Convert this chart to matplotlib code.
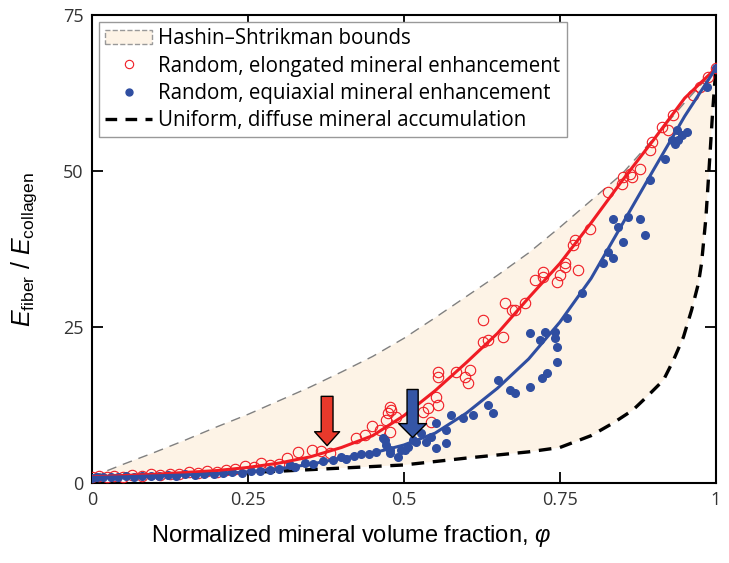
import numpy as np
import matplotlib
matplotlib.use('Agg')
import matplotlib.pyplot as plt
from matplotlib.patches import Patch
from matplotlib.lines import Line2D

plt.rcParams['mathtext.fontset'] = 'custom'
plt.rcParams['mathtext.rm'] = 'Liberation Sans'
plt.rcParams['mathtext.it'] = 'Liberation Sans:italic'

# fitted curves
fit_phi = [0, 0.05, 0.1, 0.15, 0.2, 0.25, 0.3, 0.35, 0.4, 0.45, 0.5,
           0.55, 0.6, 0.65, 0.7, 0.75, 0.8, 0.85, 0.9, 0.95, 1.0]
red_fit = [1.0, 1.2, 1.4, 1.7, 2.0, 2.5, 3.2, 4.2, 5.7, 7.6, 10.8,
           14.8, 19.3, 24.0, 29.7, 35.2, 41.7, 48.5, 55.0, 61.7, 66.5]
blue_fit = [0.9, 1.0, 1.15, 1.3, 1.5, 1.8, 2.3, 3.0, 4.0, 4.8, 6.1,
            8.0, 11.2, 15.2, 19.9, 25.8, 32.8, 41.5, 50.2, 58.8, 66.5]

# Hashin-Shtrikman bounds
upper_phi = [0, 0.05, 0.1, 0.15, 0.2, 0.25, 0.3, 0.35, 0.4, 0.45, 0.5,
             0.55, 0.6, 0.65, 0.7, 0.75, 0.8, 0.85, 0.9, 0.95, 1.0]
upper_E = [1.0, 3.0, 4.9, 6.9, 9.0, 11.0, 13.2, 15.4, 17.8, 20.3, 23.2,
           26.5, 29.9, 33.3, 36.9, 41.0, 45.3, 49.6, 55.2, 61.0, 66.5]
lower_phi = [0, 0.1, 0.2, 0.3, 0.4, 0.5, 0.6, 0.7, 0.75, 0.8, 0.835, 0.867,
             0.889, 0.916, 0.932, 0.948, 0.961, 0.972, 0.977, 0.984, 0.99, 0.995, 1.0]
lower_E = [1.0, 1.2, 1.5, 1.9, 2.4, 2.9, 4.0, 5.0, 5.7, 7.6, 9.6, 11.7,
           13.8, 16.5, 19.7, 23.4, 27.7, 32.0, 35.2, 42.5, 51.8, 59.8, 66.5]

# elongated (red open circles)
red_phi = [0.0, 0.012, 0.025, 0.035, 0.05, 0.065, 0.08, 0.095, 0.11, 0.125,
           0.14, 0.155, 0.17, 0.185, 0.2, 0.215, 0.23, 0.245, 0.26, 0.271,
           0.285, 0.3, 0.312, 0.331, 0.352, 0.367, 0.381, 0.424, 0.437, 0.449,
           0.461, 0.472, 0.475, 0.477, 0.48, 0.478, 0.488, 0.531, 0.539, 0.544,
           0.552, 0.555, 0.555, 0.555, 0.584, 0.598, 0.603, 0.606, 0.627, 0.627,
           0.635, 0.659, 0.662, 0.673, 0.678, 0.694, 0.71, 0.723, 0.723, 0.745,
           0.75, 0.758, 0.758, 0.771, 0.774, 0.779, 0.798, 0.827, 0.849, 0.851,
           0.862, 0.865, 0.878, 0.894, 0.897, 0.913, 0.924, 0.932, 0.964, 0.974,
           0.988, 1.0]
red_E = [1.0, 1.1, 0.9, 1.2, 1.0, 1.3, 1.1, 1.4, 1.3, 1.5,
         1.4, 1.7, 1.6, 1.9, 1.8, 2.1, 2.2, 2.7, 2.5, 3.2,
         2.9, 3.1, 4.0, 5.0, 5.3, 5.1, 4.8, 7.2, 7.7, 9.2,
         8.5, 10.1, 11.2, 12.2, 11.7, 8.2, 10.6, 11.4, 12.0, 9.8,
         13.8, 12.5, 17.0, 17.8, 17.8, 17.0, 16.0, 18.1, 26.1, 22.6,
         22.9, 23.4, 28.8, 27.7, 27.7, 28.8, 32.5, 33.9, 33.1, 32.3,
         33.3, 35.2, 34.7, 38.1, 38.9, 34.1, 40.8, 46.7, 48.0, 49.1,
         49.6, 49.1, 50.4, 53.4, 54.7, 57.1, 56.6, 59.0, 62.2, 63.5,
         65.1, 66.5]

# equiaxial (blue filled circles)
blue_phi = [0.0, 0.008, 0.018, 0.03, 0.042, 0.055, 0.068, 0.08, 0.095, 0.108,
            0.122, 0.135, 0.15, 0.165, 0.18, 0.195, 0.21, 0.225, 0.24, 0.255,
            0.27, 0.285, 0.3, 0.317, 0.325, 0.341, 0.355, 0.37, 0.387, 0.4,
            0.408, 0.42, 0.432, 0.444, 0.456, 0.466, 0.472, 0.47, 0.478, 0.478,
            0.491, 0.496, 0.502, 0.507, 0.515, 0.52, 0.528, 0.536, 0.544, 0.552,
            0.552, 0.568, 0.568, 0.576, 0.595, 0.611, 0.635, 0.643, 0.651, 0.67,
            0.678, 0.702, 0.702, 0.718, 0.721, 0.726, 0.729, 0.742, 0.742, 0.745,
            0.745, 0.761, 0.785, 0.819, 0.835, 0.827, 0.851, 0.843, 0.835, 0.859,
            0.878, 0.886, 0.894, 0.918, 0.929, 0.937, 0.94, 0.934, 0.945, 0.953,
            0.985, 1.0]
blue_E = [0.8, 1.0, 0.9, 1.0, 0.9, 1.1, 1.0, 1.2, 1.1, 1.2,
          1.3, 1.2, 1.4, 1.3, 1.5, 1.4, 1.6, 1.7, 1.6, 1.9,
          2.0, 2.1, 2.3, 2.9, 2.6, 3.2, 3.1, 3.5, 3.7, 4.2,
          3.9, 4.3, 4.7, 4.6, 5.0, 7.2, 6.1, 6.9, 5.3, 4.8,
          4.2, 5.3, 5.3, 5.8, 6.9, 6.6, 8.0, 6.6, 7.4, 9.6,
          5.6, 8.5, 6.4, 10.9, 10.4, 10.9, 12.5, 11.2, 16.5, 14.9,
          14.4, 24.0, 15.4, 22.9, 16.8, 24.2, 17.6, 24.2, 23.2, 21.8,
          19.4, 26.4, 30.4, 35.2, 36.0, 37.1, 38.7, 41.1, 42.3, 42.7,
          42.4, 39.7, 48.6, 52.0, 55.0, 56.6, 55.0, 54.4, 55.8, 56.3,
          63.5, 66.5]

RED = '#f01c24'
BLUE = '#2f4ea1'
FILL = '#fdf3e6'

fig = plt.figure(figsize=(7.29, 5.63), dpi=100)
ax = fig.add_axes([0.126, 0.142, 0.856, 0.831])

# bounds region
poly_x = np.concatenate([upper_phi, lower_phi[::-1]])
poly_y = np.concatenate([upper_E, lower_E[::-1]])
ax.fill(poly_x, poly_y, color=FILL, lw=0, zorder=1)
ax.plot(upper_phi, upper_E, color='#808080', lw=1.0, dashes=(7, 5), zorder=2)
ax.plot(lower_phi, lower_E, color='black', lw=2.4, dashes=(3.8, 2.6), zorder=2)

ax.plot(red_phi, red_E, 'o', mfc='none', mec=RED, mew=0.8, ms=7.5, zorder=3)
ax.plot(blue_phi, blue_E, 'o', color=BLUE, ms=5.5, zorder=3)
ax.plot(fit_phi, red_fit, color=RED, lw=2.2, zorder=4)
ax.plot(fit_phi, blue_fit, color=BLUE, lw=2.2, zorder=4)

# arrows
ax.annotate('', xy=(0.377, 6.0), xytext=(0.377, 13.9),
            arrowprops=dict(arrowstyle='simple,head_width=1.8,head_length=1.0,tail_width=0.85',
                            fc='#e8392b', ec='black', lw=1.0, shrinkA=0, shrinkB=0,
                            mutation_scale=10), zorder=6)
ax.annotate('', xy=(0.514, 7.3), xytext=(0.514, 15.0),
            arrowprops=dict(arrowstyle='simple,head_width=2.0,head_length=1.0,tail_width=0.8',
                            fc='#3556a6', ec='black', lw=1.0, shrinkA=0, shrinkB=0,
                            mutation_scale=10), zorder=6)

ax.set_xlim(0, 1)
ax.set_ylim(0, 75)
ax.set_xticks([0, 0.25, 0.5, 0.75, 1])
ax.set_xticklabels(['0', '0.25', '0.5', '0.75', '1'])
ax.set_yticks([0, 25, 50, 75])
ax.tick_params(direction='in', length=8, width=1.3, top=True, right=True,
               labelsize=13, labelcolor='#333333', pad=6)
for lab in ax.get_xticklabels() + ax.get_yticklabels():
    lab.set_family('Open Sans')
for s in ax.spines.values():
    s.set_linewidth(1.5)

ax.set_xlabel('Normalized mineral volume fraction, $\\varphi$',
              fontsize=17, family='Liberation Sans')
ax.xaxis.set_label_coords(0.415, -0.085)
ax.set_ylabel('$E_{\\mathrm{fiber}}$ / $E_{\\mathrm{collagen}}$',
              fontsize=18, family='Liberation Sans')
ax.yaxis.set_label_coords(-0.085, 0.5)

handles = [
    Patch(facecolor=FILL, edgecolor='#999999', linestyle='--', lw=1.0),
    Line2D([], [], ls='none', marker='o', mfc='none', mec=RED, mew=0.8, ms=6),
    Line2D([], [], ls='none', marker='o', color=BLUE, ms=5),
    Line2D([], [], color='black', lw=2.4, dashes=(3.5, 2.5)),
]
labels = ['Hashin\u2013Shtrikman bounds',
          'Random, elongated mineral enhancement',
          'Random, equiaxial mineral enhancement',
          'Uniform, diffuse mineral accumulation']
leg = ax.legend(handles, labels, loc='upper left', bbox_to_anchor=(0.011, 0.985),
                borderaxespad=0, fancybox=False, edgecolor='#999999',
                prop={'family': 'Open Sans', 'size': 14.8}, handlelength=2.3,
                handletextpad=0.3, labelspacing=0.3, borderpad=0.3, framealpha=1)
leg.get_frame().set_linewidth(1.0)
leg.set_zorder(10)

fig.savefig('out.png', dpi=100)
